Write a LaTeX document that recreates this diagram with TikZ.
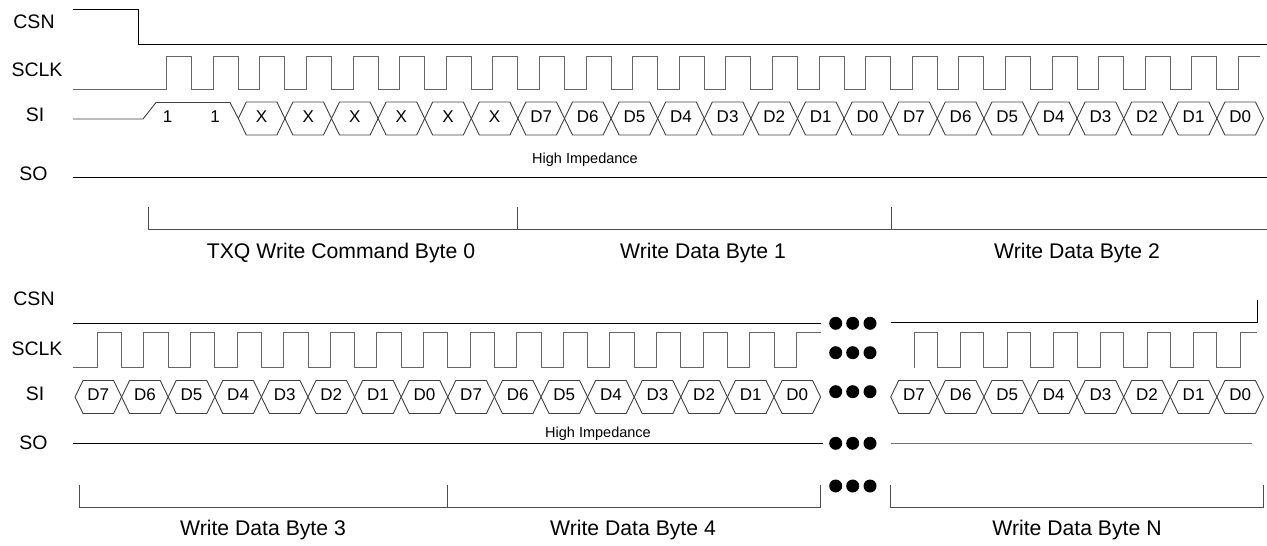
\documentclass[tikz,border=0pt]{standalone}
\usepackage{fontspec}
\setmainfont{Liberation Sans}
\begin{document}
\begin{tikzpicture}[x=1pt,y=-1pt,
  sig/.style={line width=1pt,black},
  clk/.style={line width=1pt,black!60},
  hexline/.style={line width=0.9pt,black!75},
  lbl/.style={font=\fontsize{19.5}{22}\selectfont,inner sep=0pt,text height=0.72em,text depth=0pt},
  hexlbl/.style={font=\fontsize{17}{19}\selectfont,inner sep=0pt,text height=0.72em,text depth=0pt},
  bytelbl/.style={font=\fontsize{21.2}{24}\selectfont,inner sep=0pt,text height=0.72em,text depth=0pt},
  hiz/.style={font=\fontsize{14.5}{16}\selectfont,inner sep=0pt,text height=0.72em,text depth=0pt},
  dot/.style={circle,fill=black,inner sep=0pt,minimum size=13pt},
  bracket/.style={line width=1pt,black!70}]
\useasboundingbox (0,0) rectangle (1267,546);
\def\P{46.6}
\newcommand\hexcell[4]{%
  \pgfmathsetmacro\hx{#1}%
  \draw[hexline] (\hx,#2) -- ++(8,-16.5) -- ++({\P-16},0) -- ++(8,16.5) -- ++(-8,16.5) -- ++({16-\P},0) -- cycle;
  \node[hexlbl] (#4) at ({\hx+\P/2},#2) {#3};}

% ---------------- top section ----------------
\node[lbl] (csnA) at (34,25) {CSN};
\node[lbl] (sclkA) at (37,72.5) {SCLK};
\node[lbl] (siA) at (35,118) {SI};
\node[lbl] (soA) at (33.5,177) {SO};

% CSN
\draw[sig] (73,9) -- (138,9) -- (138,44) -- (1267,44);
% SCLK
\draw[clk] (73,89) \foreach \k in {0,...,22}{ -- ({166.7+\P*\k},89) -- ({166.7+\P*\k},56) -- ({191.7+\P*\k},56) -- ({191.7+\P*\k},89)}
  -- ({166.7+\P*23},89) -- ({166.7+\P*23},56) -- (1260,56);
% SI preamble
\draw[hexline] (73,119) -- (143,119) -- (156,102.5) -- (230,102.5) -- (238.3,118.5);
\node[hexlbl] (one1) at (167.5,118.5) {1};
\node[hexlbl] (one2) at (215,118.5) {1};
\foreach \l [count=\i from 0] in {X,X,X,X,X,X,D7,D6,D5,D4,D3,D2,D1,D0,D7,D6,D5,D4,D3,D2,D1,D0}{
  \hexcell{238.3+\P*\i}{118.5}{\l}{ta\i}
}
% SO
\node[hiz] (hizA) at (585,160) {High Impedance};
\draw[sig] (73,177) -- (1267,177);
% brackets
\draw[bracket] (148,206.7) -- (148,229.3) -- (1267,229.3);
\draw[bracket] (517.6,206.7) -- (517.6,229.3);
\draw[bracket] (891,206.7) -- (891,229.3);
\node[bytelbl] (bA0) at (341,255) {TXQ Write Command Byte 0};
\node[bytelbl] (bA1) at (703,255) {Write Data Byte 1};
\node[bytelbl] (bA2) at (1077,255) {Write Data Byte 2};

% ---------------- bottom section ----------------
\node[lbl] (csnB) at (34,302) {CSN};
\node[lbl] (sclkB) at (37,352) {SCLK};
\node[lbl] (siB) at (35,397) {SI};
\node[lbl] (soB) at (33.5,446) {SO};

\draw[sig] (73,323) -- (820.7,323);
\draw[sig] (890.7,322.5) -- (1257,322.5) -- (1257,300);

\draw[clk] (73,367.5) \foreach \k in {0,...,14}{ -- ({97.3+\P*\k},367.5) -- ({97.3+\P*\k},332.3) -- ({121.7+\P*\k},332.3) -- ({121.7+\P*\k},367.5)}
  -- ({97.3+\P*15},367.5) -- ({97.3+\P*15},332.3) -- (820.7,332.3);
\draw[clk] (914,367.5) -- (914,332.3) -- (937.3,332.3) -- (937.3,367.5)
  \foreach \k in {1,...,6}{ -- ({914+\P*\k},367.5) -- ({914+\P*\k},332.3) -- ({937.3+\P*\k},332.3) -- ({937.3+\P*\k},367.5)}
  -- ({914+\P*7},367.5) -- ({914+\P*7},332.3) -- (1257,332.3);

\foreach \l [count=\i from 0] in {D7,D6,D5,D4,D3,D2,D1,D0,D7,D6,D5,D4,D3,D2,D1,D0}{
  \hexcell{75+\P*\i}{397}{\l}{tb\i}
}
\foreach \l [count=\i from 0] in {D7,D6,D5,D4,D3,D2,D1,D0}{
  \hexcell{890.7+\P*\i}{397}{\l}{tc\i}
}

\node[hiz] (hizB) at (598,434) {High Impedance};
\draw[sig] (73,443.3) -- (822.7,443.3);
\draw[line width=1pt,black!55] (890.7,443.3) -- (1252,443.3);

\draw[bracket] (79,485) -- (79,507) -- (820.2,507) -- (820.2,485);
\draw[bracket] (447,485) -- (447,507);
\draw[bracket] (890.5,485) -- (890.5,507) -- (1263,507) -- (1263,485);
\node[bytelbl] (bB3) at (263,532) {Write Data Byte 3};
\node[bytelbl] (bB4) at (633,532) {Write Data Byte 4};
\node[bytelbl] (bBN) at (1077,532) {Write Data Byte N};

% continuation dots
\foreach \y [count=\r] in {323.3,352.7,391.7,443.3,486}{
  \foreach \x [count=\c] in {835.7,852.7,870}{
    \node[dot] (dot\r\c) at (\x,\y) {};
  }
}
\end{tikzpicture}
\end{document}
